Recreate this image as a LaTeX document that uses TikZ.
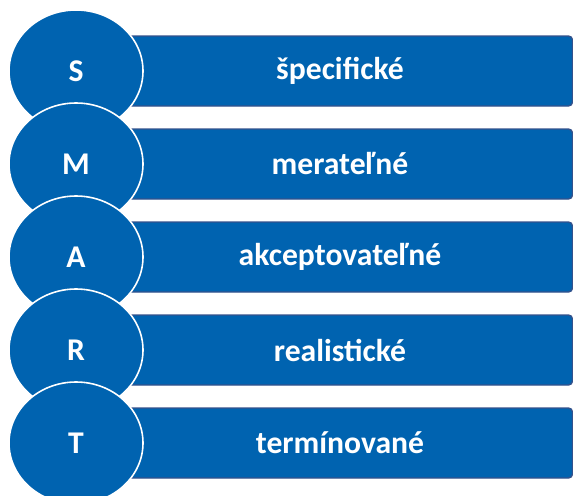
\documentclass[tikz,border=0pt]{standalone}
\usepackage{fontspec}
\setmainfont{Carlito}
\usetikzlibrary{shapes.geometric}
\definecolor{smartblue}{RGB}{0,99,176}
\definecolor{smartedge}{RGB}{52,82,140}
\tikzset{%
  letter/.style={ellipse,fill=smartblue,draw=white,line width=0.9pt,
    minimum width=2.68cm,minimum height=2.44cm,inner sep=0pt,
    text=white,font=\bfseries\fontsize{18}{21}\selectfont},%
  bar/.style={rectangle,rounded corners=0.08cm,fill=smartblue,
    draw=smartedge,line width=0.8pt,minimum width=9.3cm,
    minimum height=1.4cm,inner sep=0pt,
    text=white,font=\bfseries\fontsize{18}{21}\selectfont}%
}

\begin{document}
\begin{tikzpicture}
        \useasboundingbox (0,0) rectangle (11.46cm,-9.9cm);
        % bars behind the letters
        \node[bar] (barS) at (6.8cm,-1.42cm) {špecifické};
        \node[bar] (barM) at (6.8cm,-3.28cm) {merateľné};
        \node[bar] (barA) at (6.8cm,-5.14cm) {akceptovateľné};
        \node[bar] (barR) at (6.8cm,-7cm) {realistické};
        \node[bar] (barT) at (6.8cm,-8.86cm) {termínované};
        % letters, each one over the one above
        \node[letter] (S) at (1.52cm,-1.42cm) {S};
        \node[letter] (M) at (1.52cm,-3.28cm) {M};
        \node[letter] (A) at (1.52cm,-5.14cm) {A};
        \node[letter] (R) at (1.52cm,-7cm) {R};
        \node[letter] (T) at (1.52cm,-8.86cm) {T};
      \end{tikzpicture}
\end{document}
